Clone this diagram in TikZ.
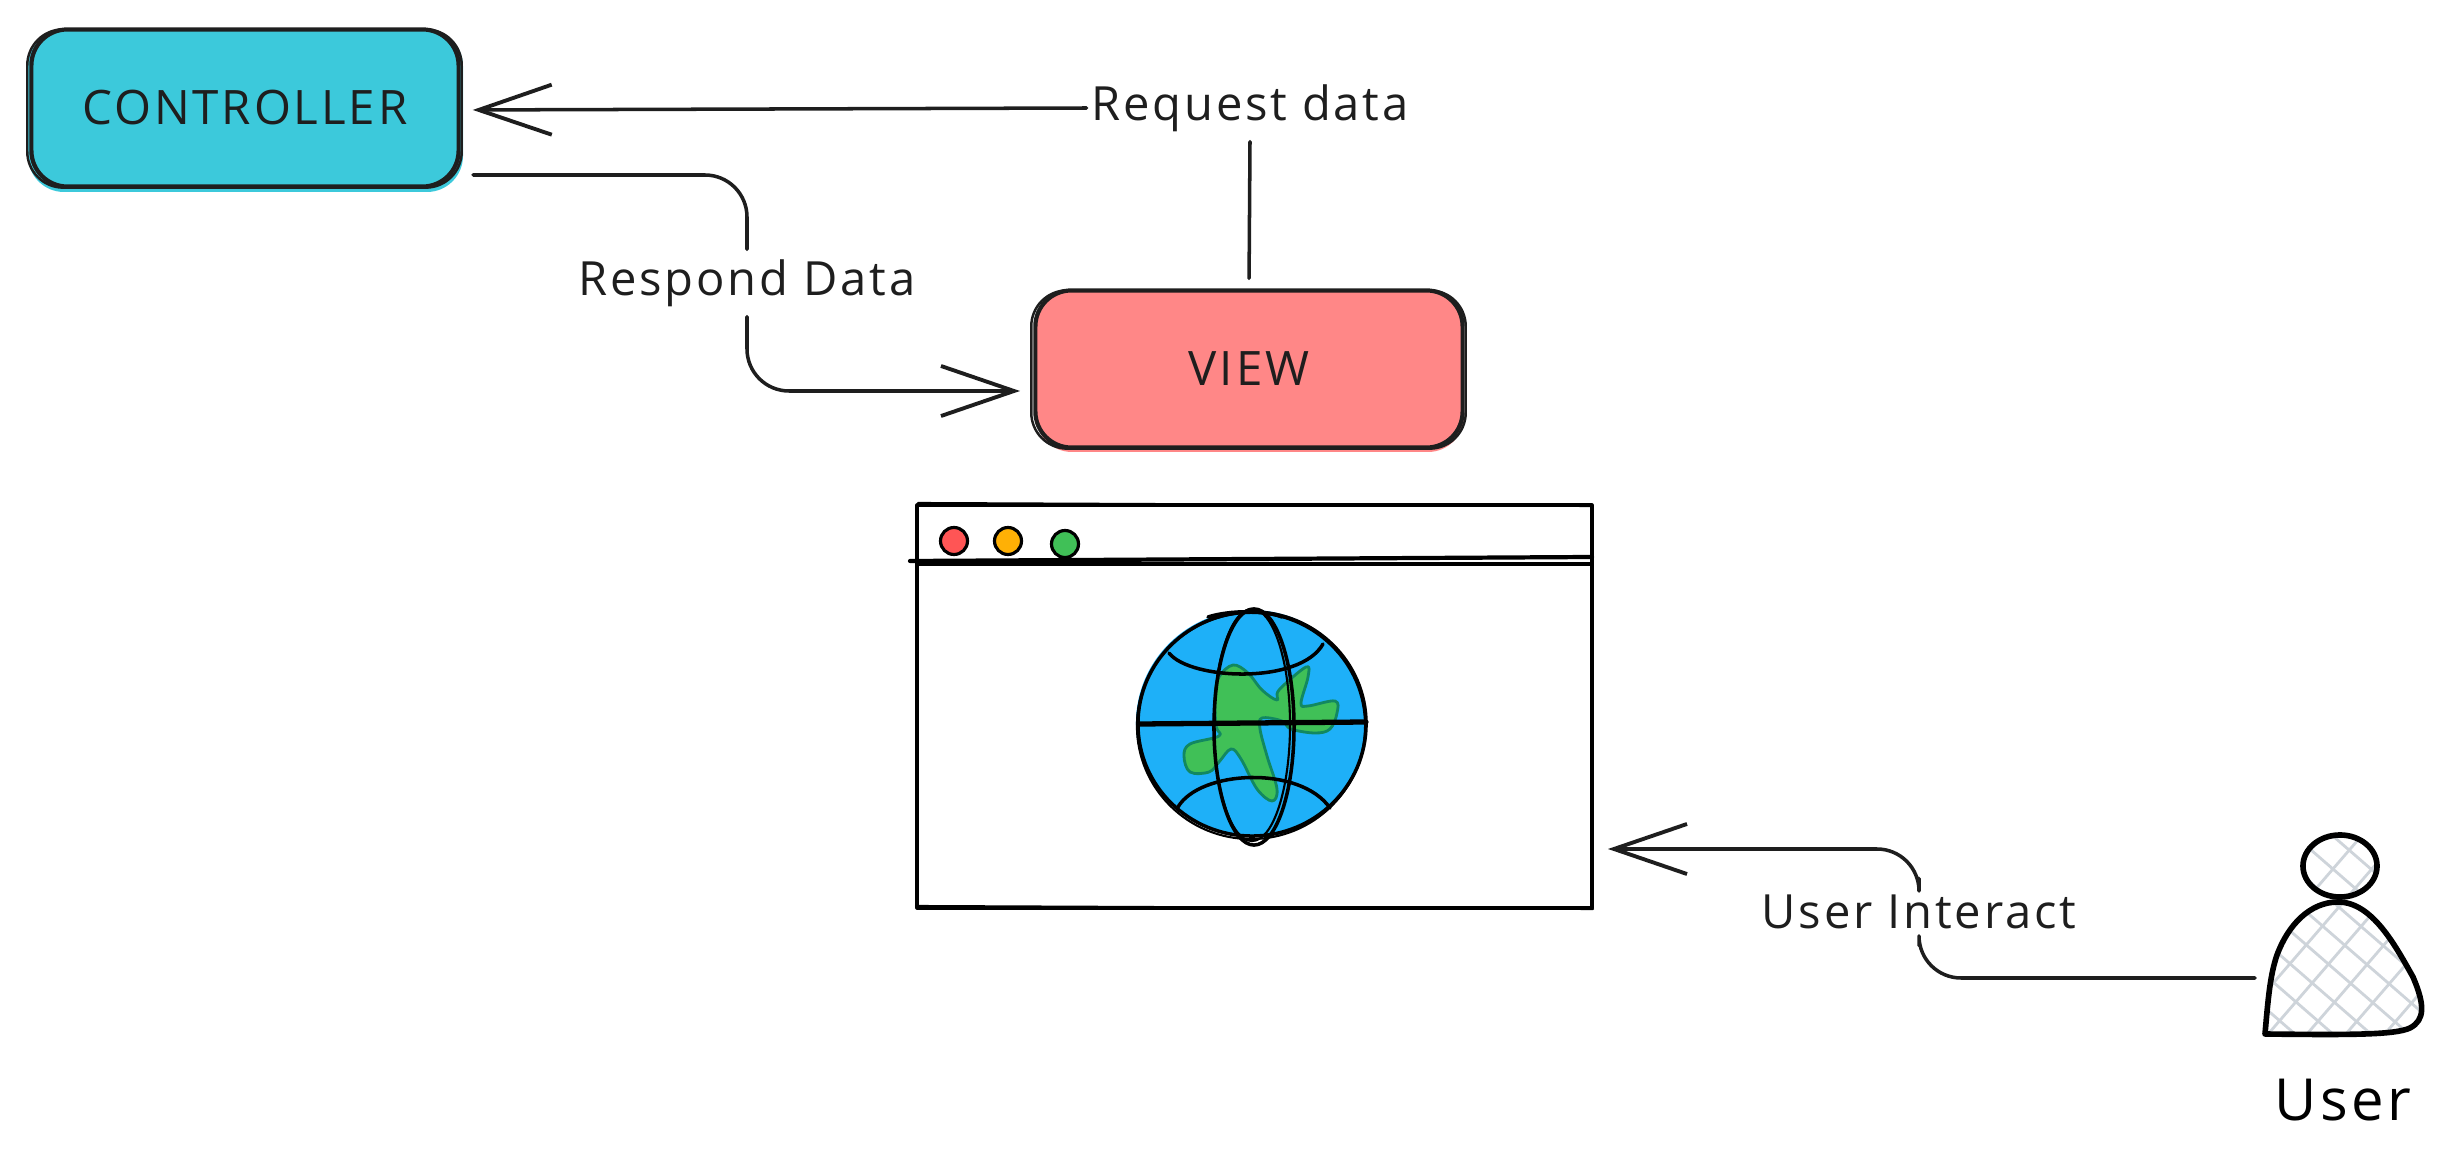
\documentclass[tikz,border=0pt]{standalone}
\usepackage{fontspec}
\setmainfont[LetterSpace=6]{Open Sans}
\usetikzlibrary{arrows.meta}
\definecolor{inkColor}{RGB}{30,30,30}
\definecolor{controllerColor}{RGB}{60,201,219}
\definecolor{viewColor}{RGB}{255,135,135}
\definecolor{oceanColor}{RGB}{30,176,248}
\definecolor{landColor}{RGB}{64,192,87}
\definecolor{landEdge}{RGB}{18,136,96}
\definecolor{hatchColor}{RGB}{206,212,218}
\definecolor{redDot}{RGB}{255,85,85}
\definecolor{orangeDot}{RGB}{255,176,5}
\tikzstyle{pixelGrid} = [x = .01cm, y = -.01cm, line cap=round, line join=round]
\tikzstyle{stageBox} = [draw=inkColor, line width=1.2pt, rounded corners = .36cm, minimum width = 4.27cm, minimum height = 1.57cm, font=\fontsize{13.5}{15}\selectfont, text=inkColor]
\tikzstyle{sketchStroke} = [draw=inkColor, line width=.7pt, rounded corners = .36cm]
\tikzstyle{flowLine} = [draw=inkColor, line width=1pt, rounded corners = .42cm]
\tikzstyle{flowArrow} = [flowLine, -{Straight Barb[length=7.3mm, width=5mm, line width=1.1pt]}]
\tikzstyle{flowLabel} = [font=\fontsize{13.4}{15}\selectfont, text=inkColor, minimum height=.66cm, inner xsep=.04cm, inner ysep=0pt]
\tikzstyle{windowLine} = [draw=black, line width=.9pt]
\tikzstyle{windowDot} = [draw=black, line width=.9pt]
\tikzstyle{globeLine} = [draw=black, line width=1pt]
\tikzstyle{userLine} = [draw=black, line width=1.6pt]
\tikzstyle{hatchLine} = [draw=hatchColor, line width=.8pt]
\newcommand{\sketchOutline}[1]{\draw [sketchStroke] ([shift={(-2,-1)}]#1.south west) rectangle ([shift={(1,2)}]#1.north east);}
\newcommand{\windowDotAt}[3]{\filldraw [windowDot, fill=#3] (#1,#2) circle (.135cm);}
\newcommand{\hatchLines}{
  \foreach \hatch in {665,698,...,1040} {
    \draw [hatchLine] (2250,\hatch) -- ++(190,165);
  }
  \foreach \hatch in {830,875,...,1260} {
    \draw [hatchLine] (2250,\hatch) -- ++(190,-220);
  }
}
\newcommand{\bodyPath}{(2265,1034) .. controls (2268,1000) and (2270,975) .. (2277,955) .. controls (2288,925) and (2310,902) .. (2338,902) .. controls (2372,902) and (2395,945) .. (2413,977) .. controls (2425,1005) and (2425,1020) .. (2410,1028) .. controls (2395,1035) and (2350,1035) .. (2265,1034) -- cycle}
\begin{document}
\begin{tikzpicture}[pixelGrid]
  \useasboundingbox (0,0) rectangle (2450,1167);
  \fill [controllerColor, rounded corners = .36cm] (28,30) rectangle (463,192);
  \node [stageBox, fill=controllerColor] (controllerBox) at (245,108) {CONTROLLER};
  \sketchOutline{controllerBox}
  \fill [viewColor, rounded corners = .36cm] (1036,291) rectangle (1464,452);
  \node [stageBox, fill=viewColor] (viewBox) at (1249,369) {VIEW};
  \sketchOutline{viewBox}

  \node [flowLabel] (requestLabel) at (1250,108) {Request data};
  \node [flowLabel] (respondLabel) at (747,283) {Respond Data};
  \node [flowLabel] (interactLabel) at (1919,912) {User Interact};
  \node [font=\fontsize{16.5}{18}\selectfont, text=black] (userLabel) at (2343,1100) {User};

  \coordinate (respondStart) at (473,175);
  \coordinate (viewEntry) at (1020,391);
  \coordinate (windowEntry) at (1608,849);
  \coordinate (userStart) at (2255,978);

  \draw [flowLine, shorten <=.1cm] (viewBox.north) -- (requestLabel.south);
  \draw [flowArrow, shorten >=.12cm] (requestLabel.west) -- ([yshift=-.02cm]controllerBox.east);
  \draw [flowLine] (respondStart) -| (respondLabel.north);
  \draw [flowArrow] (respondLabel.south) |- (viewEntry);
  \draw [flowLine] (userStart) -| (interactLabel.south);
  \draw [flowArrow] (interactLabel.north) |- (windowEntry);

  \draw [windowLine] (917,505) rectangle (1592,908);
  \draw [windowLine, line width=.6pt] (918,503) -- (1591,506) (916,906) -- (1593,909);
  \draw [windowLine, line width=1.2pt] (910,561) -- (1592,557);
  \draw [windowLine] (917,564) -- (1592,564);
  \windowDotAt{954}{541}{redDot}
  \windowDotAt{1008}{541}{orangeDot}
  \windowDotAt{1065}{544}{landColor}

  \fill [oceanColor] (1251,723) ellipse [x radius=1.15cm, y radius=1.13cm];
  \filldraw [draw=landEdge, fill=landColor, line width=.8pt] plot [smooth cycle, tension=.6] coordinates {(1219,677) (1233,665) (1248,673) (1262,690) (1277,700) (1279,690) (1306,667) (1308,677) (1301,703) (1308,706) (1335,701) (1337,713) (1330,729) (1315,733) (1291,729) (1282,721) (1262,718) (1260,729) (1267,756) (1277,789) (1272,801) (1257,789) (1241,759) (1231,749) (1219,762) (1209,772) (1190,772) (1184,756) (1190,744) (1219,736) (1216,726) (1215,696)};
  \draw [globeLine] (1252,724) ellipse [x radius=1.14cm, y radius=1.12cm];
  \draw [globeLine, line width=.6pt] (1251,726) ellipse [x radius=1.14cm, y radius=1.13cm];
  \draw [globeLine] (1254,727) ellipse [x radius=.4cm, y radius=1.18cm];
  \draw [globeLine, line width=.6pt] (1252,725) ellipse [x radius=.38cm, y radius=1.16cm];
  \draw [globeLine, line width=1.5pt] (1140,724) -- (1366,722);
  \draw [globeLine] (1169,653) .. controls (1190,680) and (1300,685) .. (1323,644);
  \draw [globeLine] (1178,807) .. controls (1200,770) and (1300,765) .. (1330,808);
  \draw [globeLine] (1208,617) .. controls (1230,610) and (1265,610) .. (1282,617);

  \begin{scope}
    \clip (2340,866) ellipse [x radius=.37cm, y radius=.31cm];
    \hatchLines
  \end{scope}
  \begin{scope}
    \clip \bodyPath;
    \hatchLines
  \end{scope}
  \draw [userLine] (2340,866) ellipse [x radius=.37cm, y radius=.31cm];
  \draw [userLine] \bodyPath;
\end{tikzpicture}
\end{document}
